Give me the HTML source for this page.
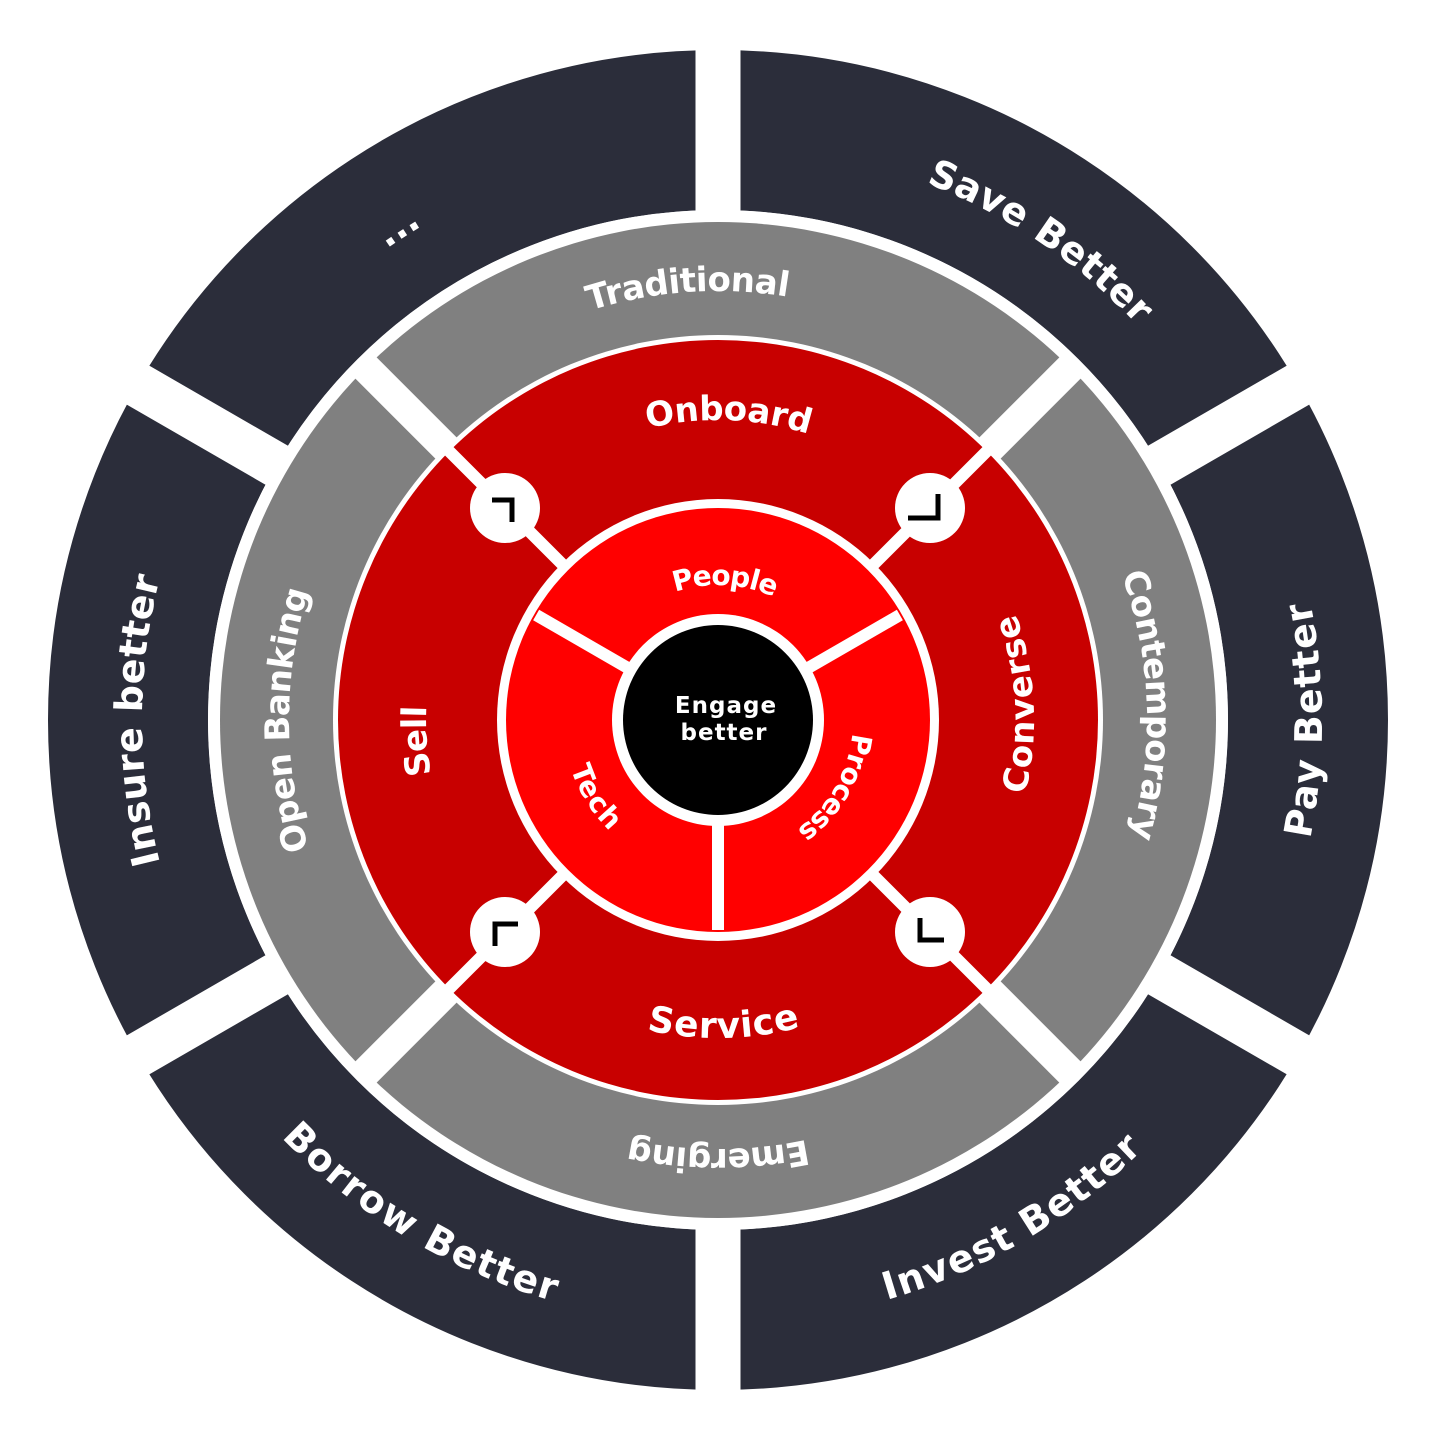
<!DOCTYPE html>
<html><head><meta charset="utf-8"><style>
html,body{margin:0;padding:0;background:#fff;}
svg{display:block;}
text{font-family:"DejaVu Sans","Liberation Sans",sans-serif;font-weight:bold;fill:#fff;}
</style></head><body>
<svg width="1440" height="1440" viewBox="0 0 1440 1440" xmlns="http://www.w3.org/2000/svg">
<defs>
<path id="cw595" d="M128,720 A590,590 0 1 1 1308,720 A590,590 0 1 1 128,720"/>
<path id="ccw595" d="M128,720 A590,590 0 1 0 1308,720 A590,590 0 1 0 128,720"/>
<path id="cw441" d="M277,720 A441,441 0 1 1 1159,720 A441,441 0 1 1 277,720"/>
<path id="cw304" d="M414,720 A304,304 0 1 1 1022,720 A304,304 0 1 1 414,720"/>
<path id="ccw304" d="M414,720 A304,304 0 1 0 1022,720 A304,304 0 1 0 414,720"/>
<path id="cw145" d="M573,720 A145,145 0 1 1 863,720 A145,145 0 1 1 573,720"/>
<path id="ccw145" d="M573,720 A145,145 0 1 0 863,720 A145,145 0 1 0 573,720"/>
</defs>
<circle cx="718" cy="720" r="590" fill="none" stroke="#2b2d3a" stroke-width="160"/>
<g stroke="#fff" stroke-width="45">
<line x1="718" y1="0" x2="718" y2="1440"/>
<line x1="718" y1="0" x2="718" y2="1440" transform="rotate(60 718 720)"/>
<line x1="718" y1="0" x2="718" y2="1440" transform="rotate(120 718 720)"/>
</g>
<circle cx="718" cy="720" r="510" fill="#fff"/>
<circle cx="718" cy="720" r="498" fill="#808080"/>
<g stroke="#fff" stroke-width="30">
<line x1="718" y1="215" x2="718" y2="1225" transform="rotate(45 718 720)"/>
<line x1="718" y1="215" x2="718" y2="1225" transform="rotate(-45 718 720)"/>
</g>
<circle cx="718" cy="720" r="385" fill="#fff"/>
<circle cx="718" cy="720" r="380" fill="#c80000"/>
<g stroke="#fff" stroke-width="12">
<line x1="718" y1="330" x2="718" y2="1110" transform="rotate(45 718 720)"/>
<line x1="718" y1="330" x2="718" y2="1110" transform="rotate(-45 718 720)"/>
</g>
<circle cx="718" cy="720" r="221" fill="#fff"/>
<circle cx="718" cy="720" r="212" fill="#ff0000"/>
<g stroke="#fff" stroke-width="12">
<line x1="718" y1="720" x2="718" y2="930"/>
<line x1="718" y1="720" x2="718" y2="930" transform="rotate(120 718 720)"/>
<line x1="718" y1="720" x2="718" y2="930" transform="rotate(-120 718 720)"/>
</g>
<circle cx="718" cy="720" r="106" fill="#fff"/>
<circle cx="718" cy="720" r="95" fill="#000"/>
<g fill="#fff">
<circle cx="505" cy="508" r="35"/>
<circle cx="930" cy="508" r="35"/>
<circle cx="505" cy="932" r="35"/>
<circle cx="930" cy="932" r="35"/>
</g>
<g fill="none" stroke="#000" stroke-width="5">
<polyline points="492,500 512,500 512,522"/>
<polyline points="908,518 938,518 938,494"/>
<polyline points="495,946 495,924 518,924"/>
<polyline points="920,918 920,940 944,940"/>
</g>
<g transform="rotate(34 718 720)"><text font-size="38" letter-spacing="1"><textPath href="#cw595" startOffset="25%" text-anchor="middle"><tspan dy="14">Save Better</tspan></textPath></text></g>
<g transform="rotate(-33 718 720)"><text font-size="38"><textPath href="#cw595" startOffset="25%" text-anchor="middle"><tspan dy="14">...</tspan></textPath></text></g>
<g transform="rotate(-90 718 720)"><text font-size="38" letter-spacing="1"><textPath href="#cw595" startOffset="25%" text-anchor="middle"><tspan dy="14">Insure better</tspan></textPath></text></g>
<g transform="rotate(-90 718 720)"><text font-size="38" letter-spacing="1"><textPath href="#ccw595" startOffset="25%" text-anchor="middle"><tspan dy="14">Pay Better</tspan></textPath></text></g>
<g transform="rotate(-30.5 718 720)"><text font-size="38" letter-spacing="1"><textPath href="#ccw595" startOffset="25%" text-anchor="middle"><tspan dy="14">Invest Better</tspan></textPath></text></g>
<g transform="rotate(31 718 720)"><text font-size="38" letter-spacing="1"><textPath href="#ccw595" startOffset="25%" text-anchor="middle"><tspan dy="14">Borrow Better</tspan></textPath></text></g>
<g transform="rotate(-4 718 720)"><text font-size="34"><textPath href="#cw441" startOffset="25%" text-anchor="middle"><tspan dy="12">Traditional</tspan></textPath></text></g>
<g transform="rotate(-90 718 720)"><text font-size="34"><textPath href="#cw441" startOffset="25%" text-anchor="middle"><tspan dy="12">Open Banking</tspan></textPath></text></g>
<g transform="rotate(88 718 720)"><text font-size="34"><textPath href="#cw441" startOffset="25%" text-anchor="middle"><tspan dy="12">Contemporary</tspan></textPath></text></g>
<g transform="rotate(180 718 720)"><text font-size="34"><textPath href="#cw441" startOffset="25%" text-anchor="middle"><tspan dy="12">Emerging</tspan></textPath></text></g>
<g transform="rotate(2 718 720)"><text font-size="34"><textPath href="#cw304" startOffset="25%" text-anchor="middle"><tspan dy="4">Onboard</tspan></textPath></text></g>
<g transform="rotate(-94 718 720)"><text font-size="34"><textPath href="#cw304" startOffset="25%" text-anchor="middle"><tspan dy="12">Sell</tspan></textPath></text></g>
<g transform="rotate(-93 718 720)"><text font-size="34"><textPath href="#ccw304" startOffset="25%" text-anchor="middle"><tspan dy="12">Converse</tspan></textPath></text></g>
<g transform="rotate(-1 718 720)"><text font-size="36"><textPath href="#ccw304" startOffset="25%" text-anchor="middle"><tspan dy="14">Service</tspan></textPath></text></g>
<g transform="rotate(3 718 720)"><text font-size="28"><textPath href="#cw145" startOffset="25%" text-anchor="middle"><tspan dy="10">People</tspan></textPath></text></g>
<g transform="rotate(120 718 720)"><text font-size="28"><textPath href="#cw145" startOffset="25%" text-anchor="middle"><tspan dy="10">Process</tspan></textPath></text></g>
<g transform="rotate(58 718 720)"><text font-size="28"><textPath href="#ccw145" startOffset="25%" text-anchor="middle"><tspan dy="10">Tech</tspan></textPath></text></g>
<text x="726" y="713" font-size="23" text-anchor="middle" letter-spacing="1">Engage</text>
<text x="724" y="740" font-size="23" text-anchor="middle" letter-spacing="1">better</text>
</svg>
</body></html>
